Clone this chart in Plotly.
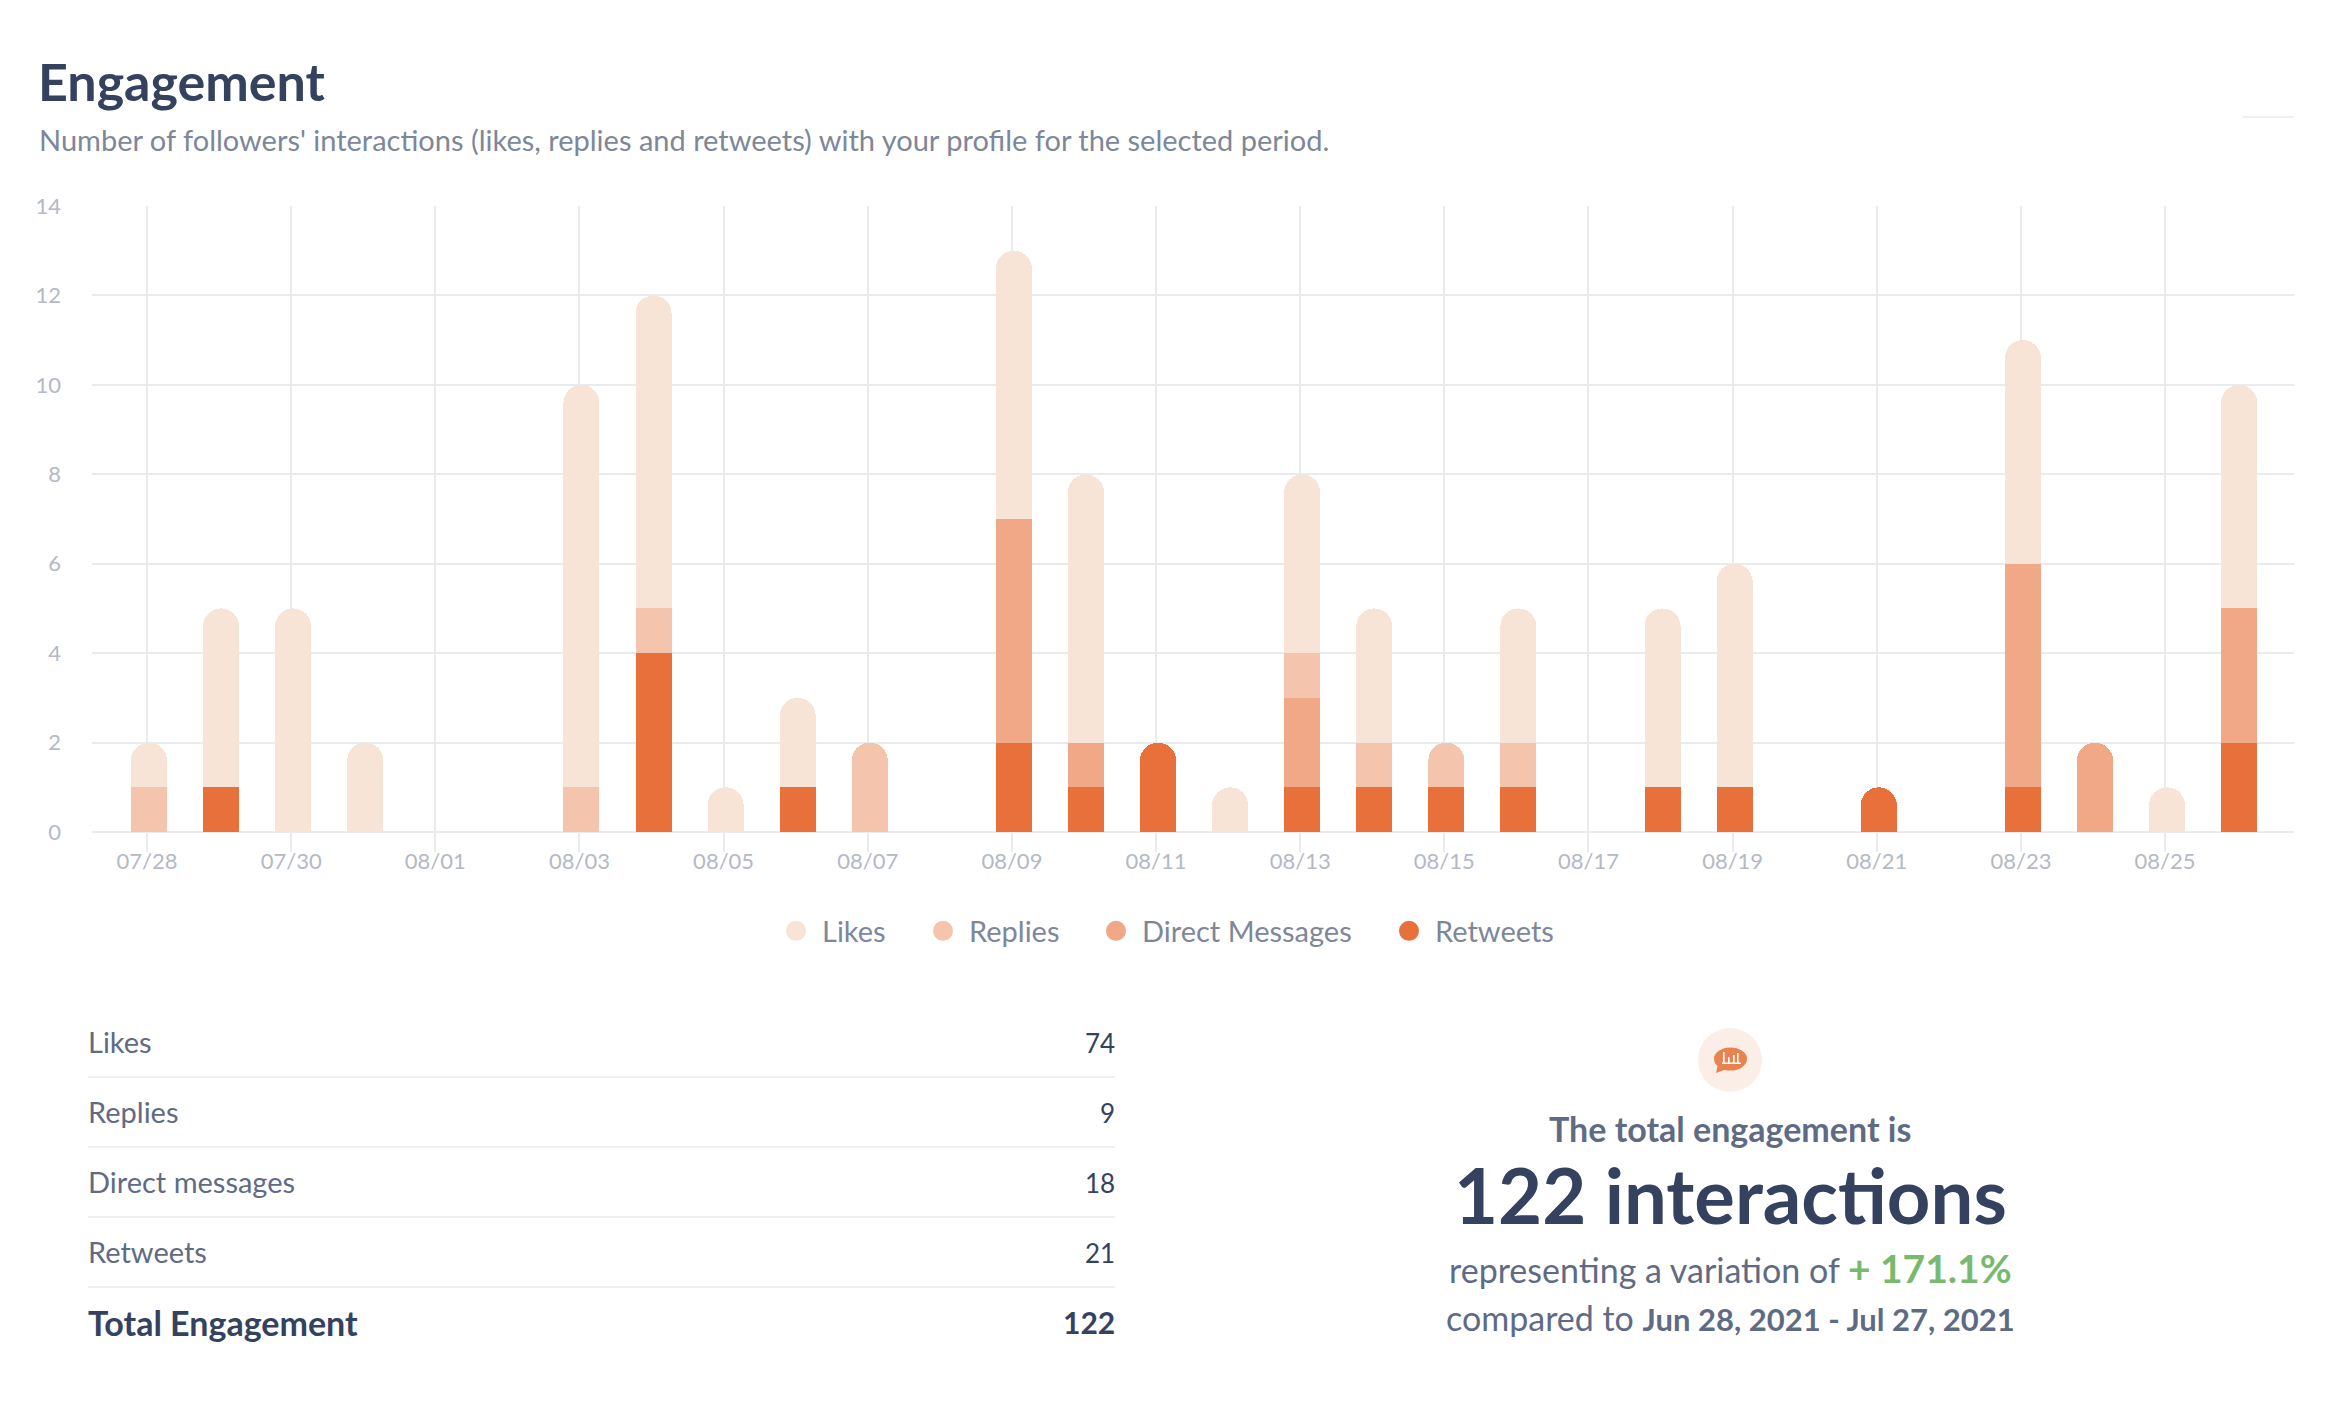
#!/usr/bin/env python3

import plotly.graph_objs as go

W, H = 2336, 1414

# Chart data, stacked from the bottom up
dates = ['2021-07-28', '2021-07-29', '2021-07-30', '2021-07-31', '2021-08-01', '2021-08-02',
         '2021-08-03', '2021-08-04', '2021-08-05', '2021-08-06', '2021-08-07', '2021-08-08',
         '2021-08-09', '2021-08-10', '2021-08-11', '2021-08-12', '2021-08-13', '2021-08-14',
         '2021-08-15', '2021-08-16', '2021-08-17', '2021-08-18', '2021-08-19', '2021-08-20',
         '2021-08-21', '2021-08-22', '2021-08-23', '2021-08-24', '2021-08-25', '2021-08-26']
retweets = [0, 1, 0, 0, 0, 0, 0, 4, 0, 1, 0, 0, 2, 1, 2, 0, 1, 1, 1, 1, 0, 1, 1, 0, 1, 0, 1, 0, 0, 2]
direct_messages = [0, 0, 0, 0, 0, 0, 0, 0, 0, 0, 0, 0, 5, 1, 0, 0, 2, 0, 0, 0, 0, 0, 0, 0, 0, 0, 5, 2, 0, 3]
replies = [1, 0, 0, 0, 0, 0, 1, 1, 0, 0, 2, 0, 0, 0, 0, 0, 1, 1, 1, 1, 0, 0, 0, 0, 0, 0, 0, 0, 0, 0]
likes = [1, 4, 5, 2, 0, 0, 9, 7, 1, 2, 0, 0, 6, 6, 0, 1, 4, 3, 0, 3, 0, 4, 5, 0, 0, 0, 5, 0, 1, 5]

# Table under the chart
table_labels = ['Likes', 'Replies', 'Direct messages', 'Retweets']
table_values = ['74', '9', '18', '21']
total_label = 'Total Engagement'
total_value = '122'

NAVY = '#34425f'
SLATE = '#5f6b84'
GREY = '#7d8799'
TICK = '#b3b9c5'
GRID = '#e9ebef'
GREEN = '#79b96f'
LIKES, REPLIES, DMS, RTS = '#f8e3d7', '#f4c4ac', '#f0a886', '#e8703b'
FONT = 'Lato'


def px(x):
    return x / W


def py(y):
    return 1 - y / H


def label(x, y, text, size, color, anchor='left'):
    return dict(xref='paper', yref='paper', x=px(x), y=py(y), text=text, showarrow=False,
                xanchor=anchor, yanchor='middle', align=anchor,
                font=dict(family=FONT, size=size, color=color))


def rule(x0, x1, y, color='#eff0f2'):
    return dict(type='line', xref='paper', yref='paper', x0=px(x0), x1=px(x1), y0=py(y), y1=py(y),
                line=dict(color=color, width=2))


def oval(cx, cy, rx, ry, color):
    return dict(type='circle', xref='paper', yref='paper', x0=px(cx - rx), x1=px(cx + rx),
                y0=py(cy + ry), y1=py(cy - ry), fillcolor=color, line=dict(width=0))


def block(x0, x1, y0, y1, color):
    return dict(type='rect', xref='paper', yref='paper', x0=px(x0), x1=px(x1),
                y0=py(y1), y1=py(y0), fillcolor=color, line=dict(width=0))


stack = [('Retweets', retweets, RTS), ('Direct Messages', direct_messages, DMS),
         ('Replies', replies, REPLIES), ('Likes', likes, LIKES)]

data = []
for name, values, color in stack:
    data.append(go.Bar(x=dates, y=values, name=name, marker=dict(color=color, line=dict(width=0)),
                       width=43200000, offset=-19200000, showlegend=False))

# One small legend per entry so the gaps can follow the original
legend_layout = {}
legend_entries = [('Likes', LIKES, 770), ('Replies', REPLIES, 917),
                  ('Direct Messages', DMS, 1090), ('Retweets', RTS, 1383)]
for i, (name, color, left) in enumerate(legend_entries):
    key = 'legend' if i == 0 else f'legend{i + 1}'
    data.append(go.Scatter(x=[None], y=[None], mode='markers', name=name, legend=key,
                           marker=dict(color=color, size=16, line=dict(color=color, width=4))))
    legend_layout[key] = dict(x=px(left), y=py(931), xanchor='left', yanchor='middle',
                              itemwidth=42, bgcolor='rgba(0,0,0,0)', borderwidth=0,
                              font=dict(family=FONT, size=29, color=GREY))

annotations = [
    label(36, 81, '<b>Engagement</b>', 52, NAVY),
    label(37, 140, "Number of followers' interactions (likes, replies and retweets) with your profile for the selected period.", 29, GREY),
]
rows_y = [1043, 1113, 1183, 1253]
for y, name, value in zip(rows_y, table_labels, table_values):
    annotations.append(label(86, y - 1.5, name, 29, SLATE))
    annotations.append(label(1117, y, value, 26, NAVY, 'right'))
annotations.append(label(86, 1322, f'<b>{total_label}</b>', 34, NAVY))
annotations.append(label(1117, 1322, f'<b>{total_value}</b>', 30, NAVY, 'right'))

annotations += [
    label(1730, 1128, '<b>The total engagement is</b>', 34, SLATE, 'center'),
    label(1730, 1194, '<b>122 interactions</b>', 76, NAVY, 'center'),
    label(1730, 1268, f'representing a variation of <b><span style="color:{GREEN};font-size:39px">+ 171.1%</span></b>', 34, SLATE, 'center'),
    label(1730, 1317, 'compared to <b><span style="font-size:31px">Jun 28, 2021 - Jul 27, 2021</span></b>', 34, SLATE, 'center'),
]

shapes = [rule(2243, 2294, 117)]
for y in [1077, 1147, 1217, 1287]:
    shapes.append(rule(88, 1115, y))

# Speech bubble icon
shapes.append(oval(1730, 1060, 32, 32, '#fbeee6'))
shapes.append(oval(1730.5, 1059, 16.5, 11.5, '#e8834f'))
shapes.append(dict(type='path', xref='paper', yref='paper', fillcolor='#e8834f', line=dict(width=0),
                   path=f'M {px(1718)} {py(1064)} L {px(1716)} {py(1073)} L {px(1727)} {py(1069)} Z'))
shapes.append(block(1722, 1741, 1062.5, 1064, 'white'))
for x, top in zip([1723, 1728, 1733, 1737], [1052, 1057, 1055, 1053]):
    shapes.append(block(x, x + 1.6, top, 1063, 'white'))

layout = go.Layout(
    width=W,
    height=H,
    margin=dict(l=0, r=0, t=0, b=0, autoexpand=False),
    paper_bgcolor='white',
    plot_bgcolor='white',
    barmode='stack',
    barcornerradius=18,
    hovermode='closest',
    xaxis=dict(
        domain=[px(92), px(2294)],
        type='date',
        range=['2021-07-27 05:41', '2021-08-26 18:56'],
        tick0='2021-07-28',
        dtick=2 * 86400000,
        tickformat='%m/%d',
        showgrid=True,
        gridcolor=GRID,
        gridwidth=2,
        zeroline=False,
        showline=False,
        ticks='outside',
        ticklen=19,
        tickwidth=2,
        tickcolor=GRID,
        ticklabelstandoff=-9,
        tickfont=dict(family=FONT, size=22, color=TICK),
    ),
    yaxis=dict(
        domain=[py(832), py(206)],
        range=[0, 14],
        dtick=2,
        showgrid=True,
        gridcolor=GRID,
        gridwidth=2,
        zeroline=True,
        zerolinecolor=GRID,
        zerolinewidth=2,
        showline=False,
        ticks='',
        ticklabelstandoff=30,
        tickfont=dict(family=FONT, size=22, color=TICK),
    ),
    annotations=annotations,
    shapes=shapes,
    **legend_layout,
)

fig = go.Figure(data=data, layout=layout)

fig.write_html("out.html", config={'displayModeBar': False},
               post_script="document.body.style.margin='0';")
